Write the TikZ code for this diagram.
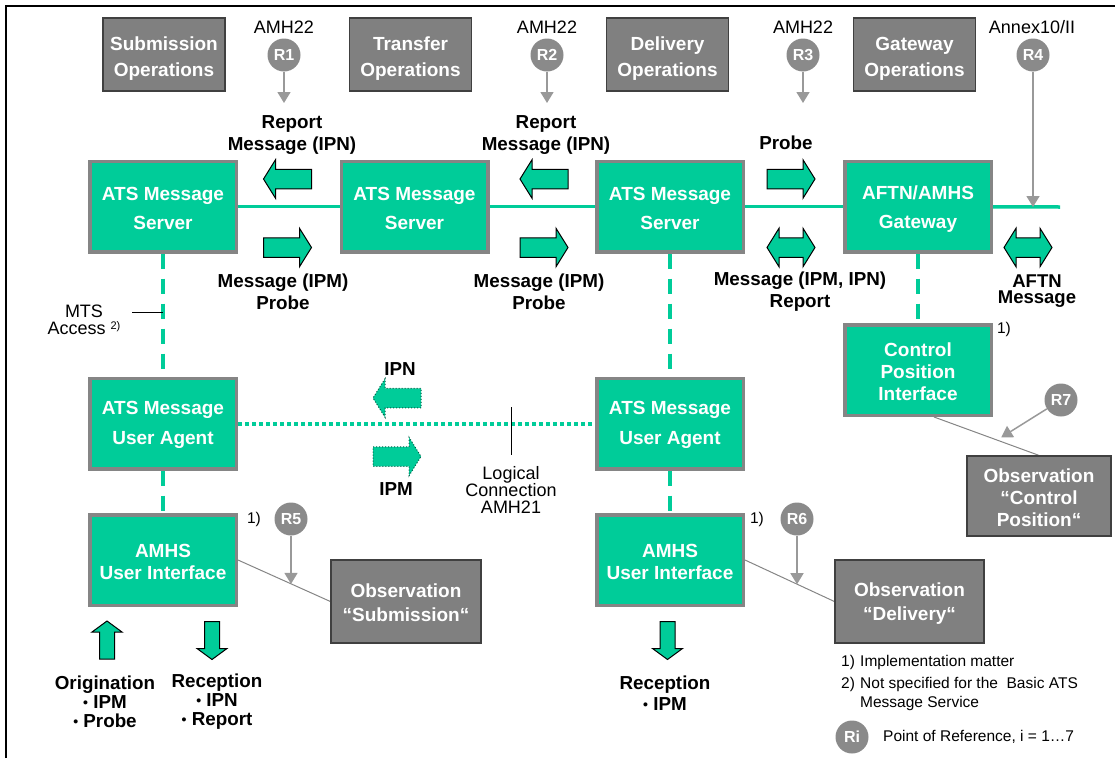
\documentclass[tikz,border=0pt]{standalone}
\usepackage{fontspec}
\setmainfont{Liberation Sans}
\usetikzlibrary{arrows.meta,calc,backgrounds}
\definecolor{amhsgreen}{HTML}{00CC99}
\definecolor{rimgray}{HTML}{858585}
\definecolor{opsgray}{HTML}{808080}
\definecolor{refgray}{HTML}{8A8A8A}
\definecolor{pointergray}{HTML}{999999}

% invisible strut that raises the first line of a box text
\newcommand{\firstline}[1]{\rule{0pt}{#1pt}}
% small bullet used in the lists under the user interfaces
\newcommand{\dotitem}{\raisebox{1pt}{\fontsize{14}{14}\selectfont\textbullet}~}

\tikzset{
  greenbox/.style={draw=rimgray, line width=3.5pt, fill=amhsgreen, text=white,
    minimum width=146.5pt, minimum height=90.5pt, inner sep=0pt, align=center,
    font=\bfseries\fontsize{19}{29}\selectfont},
  greybox/.style={draw=black!75, line width=1.2pt, fill=opsgray, text=white,
    inner sep=0pt, align=center, font=\bfseries\fontsize{19}{24}\selectfont},
  refc/.style={circle, fill=refgray, text=white, minimum size=33pt, inner sep=0pt,
    font=\bfseries\fontsize{16}{16}\selectfont},
  refline/.style={draw=pointergray, line width=1.5pt, -{Triangle[length=11pt,width=13pt]}},
  obsline/.style={draw=rimgray, line width=1pt},
  busline/.style={draw=amhsgreen, line width=3.5pt},
  accessline/.style={draw=amhsgreen, line width=4pt, dash pattern=on 15pt off 10pt},
  logicline/.style={draw=amhsgreen, line width=4pt, dash pattern=on 4pt off 3pt},
  tickline/.style={draw=black, line width=1pt},
  lbl/.style={align=center, inner sep=0pt, font=\bfseries\fontsize{18.8}{22}\selectfont},
  plain/.style={align=center, inner sep=0pt, font=\fontsize{18}{17}\selectfont},
  note/.style={anchor=west, inner sep=0pt, align=left, font=\fontsize{15.5}{19}\selectfont},
  flowarrow/.style={fill=amhsgreen, draw=black, line width=1pt, line join=miter},
  flowdotted/.style={fill=amhsgreen, draw=black!55!amhsgreen, line width=1pt, dotted},
  pics/hblock/.style={code={\path[#1] (-24,-9.75) -- (12,-9.75) -- (12,-19.25) -- (24,0)
    -- (12,19.25) -- (12,9.75) -- (-24,9.75) -- cycle;}},
  pics/dblock/.style={code={\path[#1] (-24,0) -- (-12,-19.25) -- (-12,-9.75) -- (12,-9.75)
    -- (12,-19.25) -- (24,0) -- (12,19.25) -- (12,9.75) -- (-12,9.75) -- (-12,19.25) -- cycle;}},
  pics/vblock/.style={code={\path[#1] (-19,-7.5) -- (8,-7.5) -- (8,-15) -- (19,0)
    -- (8,15) -- (8,7.5) -- (-19,7.5) -- cycle;}},
}

\begin{document}
\begin{tikzpicture}[x=1pt,y=-1pt]
\useasboundingbox (0,0) rectangle (1115,758);
\draw[line width=2.5pt] (6,758) -- (6,6) -- (1115,6);

% operation domains
\node[greybox, minimum width=122pt, minimum height=73pt, font=\bfseries\fontsize{19}{25.5}\selectfont] (subops) at (164,54.5) {\firstline{22}Submission\\Operations};
\node[greybox, minimum width=122pt, minimum height=73pt, font=\bfseries\fontsize{19}{25.5}\selectfont] (traops) at (410.5,54.5) {\firstline{22}Transfer\\Operations};
\node[greybox, minimum width=122pt, minimum height=73pt, font=\bfseries\fontsize{19}{25.5}\selectfont] (delops) at (667.5,54.5) {\firstline{22}Delivery\\Operations};
\node[greybox, minimum width=122pt, minimum height=73pt, font=\bfseries\fontsize{19}{25.5}\selectfont] (gwops) at (914.5,54.5) {\firstline{22}Gateway\\Operations};

% points of reference R1..R4
\node[plain] (amh1) at (284,27) {AMH22};
\node[refc] (r1) at (284,55) {R1};
\coordinate (t1) at (284,103);
\node[plain] (amh2) at (547,27) {AMH22};
\node[refc] (r2) at (547,55) {R2};
\coordinate (t2) at (547,103);
\node[plain] (amh3) at (803,27) {AMH22};
\node[refc] (r3) at (803,55) {R3};
\coordinate (t3) at (803,103);
\node[plain] (annex) at (1032,27) {Annex10/II};
\node[refc] (r4) at (1033,55) {R4};

\node[lbl] (rep1) at (292,135) {Report\\Message (IPN)};
\node[lbl] (rep2) at (546,135) {Report\\Message (IPN)};
\node[lbl] (probe) at (786,143) {Probe};

% message transfer system
\node[greenbox] (srv1) at (163,206.5) {\firstline{18}ATS Message\\Server};
\node[greenbox] (srv2) at (414.5,206.5) {\firstline{18}ATS Message\\Server};
\node[greenbox] (srv3) at (670,206.5) {\firstline{18}ATS Message\\Server};
\node[greenbox] (gw) at (918,206.5) {\firstline{18}AFTN/AMHS\\Gateway};
\coordinate (aftnend) at (1060,207);

\pic[rotate=180] at (287.5,179) {hblock=flowarrow};
\pic at (287.5,247.5) {hblock=flowarrow};
\pic[rotate=180] at (544,179) {hblock=flowarrow};
\pic at (544,247.5) {hblock=flowarrow};
\pic at (791,179) {hblock=flowarrow};
\pic at (791,247.5) {dblock=flowarrow};
\pic at (1028,247.5) {dblock=flowarrow};

\node[lbl] (lab1) at (283,292) {Message (IPM)\\Probe};
\node[lbl] (lab2) at (539,292) {Message (IPM)\\Probe};
\node[lbl] (lab3) at (800,292) {Message (IPM, IPN)\\Report};
\node[lbl, font=\bfseries\fontsize{18.5}{16.5}\selectfont] (aftnmsg) at (1037,291) {AFTN\\Message};

\coordinate (mtsfoot) at (132,312);
\node[plain] (mts) at (84,320) {MTS\\Access \raisebox{5pt}{\fontsize{11}{11}\selectfont 2)}};

% user agents
\node[greenbox, font=\bfseries\fontsize{19}{30}\selectfont] (ua1) at (163,423.5) {\firstline{17}ATS Message\\User Agent};
\node[greenbox, font=\bfseries\fontsize{19}{30}\selectfont] (ua2) at (670,423.5) {\firstline{17}ATS Message\\User Agent};

\pic[rotate=180] at (397,398) {hblock=flowdotted};
\pic at (397,456.5) {hblock=flowdotted};
\node[lbl] (ipn) at (400,369) {IPN};
\node[lbl] (ipm) at (396,489) {IPM};
\coordinate (lc1) at (511,407);
\coordinate (lc2) at (511,455);
\node[plain] (logic) at (511,490) {Logical\\Connection\\AMH21};

% control position
\node[greenbox, font=\bfseries\fontsize{19}{22}\selectfont] (cpi) at (918,370) {\firstline{17}Control\\Position\\Interface};
\node[note, anchor=center] (fn1c) at (1004,329) {1)};
\node[refc] (r7) at (1061,400) {R7};
\node[greybox, minimum width=144pt, minimum height=80pt, font=\bfseries\fontsize{19}{22}\selectfont] (obs3) at (1039,496) {\firstline{17}Observation\\“Control\\Position“};

% user interfaces
\node[greenbox, font=\bfseries\fontsize{19}{22}\selectfont] (ui1) at (163,560) {\firstline{17}AMHS\\User Interface};
\node[greenbox, font=\bfseries\fontsize{19}{22}\selectfont] (ui2) at (670,560) {\firstline{17}AMHS\\User Interface};
\node[note, anchor=center] (fn1a) at (254,519) {1)};
\node[note, anchor=center] (fn1b) at (757,519) {1)};
\node[refc] (r5) at (291,519) {R5};
\node[refc] (r6) at (797,519) {R6};
\node[greybox, minimum width=150pt, minimum height=83pt] (obs1) at (406,601.5) {\firstline{17}Observation\\“Submission“};
\node[greybox, minimum width=149pt, minimum height=83pt] (obs2) at (909.5,601.5) {\firstline{17}Observation\\“Delivery“};

\pic[rotate=90] at (107,640) {vblock=flowarrow};
\pic[rotate=-90] at (212,640.5) {vblock=flowarrow};
\pic[rotate=-90] at (667.5,640.5) {vblock=flowarrow};

\node[lbl, font=\bfseries\fontsize{18.8}{19}\selectfont] (orig) at (105,702) {Origination\\\dotitem IPM\\\dotitem Probe};
\node[lbl, font=\bfseries\fontsize{18.8}{19}\selectfont] (rec1) at (217,702) {Reception\\\dotitem IPN\\\dotitem Report};
\node[lbl, font=\bfseries\fontsize{18.8}{21}\selectfont] (rec2) at (665,693.5) {Reception\\\dotitem IPM};

% footnotes
\node[note] (n1num) at (841,662) {1)};
\node[note] (n1) at (860,662) {Implementation matter};
\node[note] (n2num) at (841,684) {2)};
\node[note] (n2) at (860,693.5) {Not specified for the\ \ Basic ATS\\Message Service};
\node[refc] (ri) at (852,737) {Ri};
\node[note] (rilabel) at (883,737) {Point of Reference, i = 1…7};

% connectors
\begin{scope}[on background layer]
  \draw[busline] (srv1) -- (srv2);
  \draw[busline] (srv2) -- (srv3);
  \draw[busline] (srv3) -- (gw);
  \draw[busline] (gw) -- (aftnend);
  \draw[accessline] (srv1.south) -- (ua1.north);
  \draw[accessline] (ua1.south) -- (ui1.north);
  \draw[accessline] (srv3.south) -- (ua2.north);
  \draw[accessline] (ua2.south) -- (ui2.north);
  \draw[accessline] (gw.south) -- (cpi.north);
  \draw[logicline] (ua1) -- (ua2);
  \draw[tickline] (mtsfoot) -- (srv1.south |- mtsfoot);
  \draw[tickline] (lc1) -- (lc2);
  \draw[obsline] (ui1.east) -- coordinate[pos=0.576] (o5) (obs1.west);
  \draw[obsline] (ui2.east) -- coordinate[pos=0.584] (o6) (obs2.west);
  \draw[obsline] ($(cpi.south)+(16,0)$) -- coordinate[pos=0.6] (o7) (obs3.north);
\end{scope}
\draw[refline] (r1) -- (t1);
\draw[refline] (r2) -- (t2);
\draw[refline] (r3) -- (t3);
\draw[refline] (r4) -- (r4 |- aftnend);
\draw[refline] (r5) -- (r5 |- o5);
\draw[refline] (r6) -- (r6 |- o6);
\draw[refline, shorten >=5pt] (r7) -- (o7);
\end{tikzpicture}
\end{document}
